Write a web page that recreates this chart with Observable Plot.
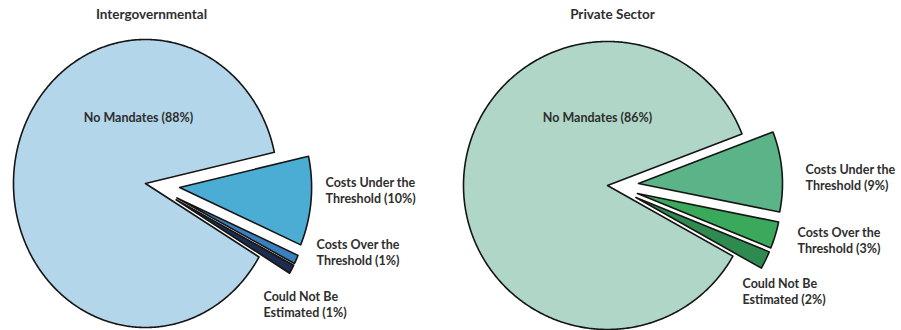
<!DOCTYPE html>
<html>
<head>
<meta charset="utf-8">
<script src="https://cdn.jsdelivr.net/npm/d3@7"></script>
<script src="https://cdn.jsdelivr.net/npm/@observablehq/plot@0.6"></script>
<style>
  html, body { margin: 0; padding: 0; background: #fff; }
  #chart { display: flex; width: 901px; height: 330px; overflow: hidden; }
</style>
</head>
<body>
<div id="chart"></div>
<script>
// ---- Data ----
const categories = ["Costs Under the Threshold", "Costs Over the Threshold", "Could Not Be Estimated", "No Mandates"];
const labelFirst = ["Costs Under the", "Costs Over the", "Could Not Be", "No Mandates"];
const labelSecond = ["Threshold", "Threshold", "Estimated", ""];
const intergovValues = [10, 1, 1, 88];
const privateValues = [9, 3, 2, 86];
const titles = ["Intergovernmental", "Private Sector"];

// ---- Style / layout ----
const panels = [
  {
    title: titles[0], values: intergovValues, width: 450,
    cx: 150.2, cy: 183.9, rx: 132, ry: 144,
    startDeg: 77.5, explode: [0.22, 0.22, 0.22, 0.04],
    colors: ["#4badd3", "#3a7fbe", "#1c2c4c", "#b4d6ea"],
    titlePos: [151, 14],
    labelPos: [[325, 189, "start"], [316, 251, "start"], [263, 303, "start"], [138, 117, "middle"]]
  },
  {
    title: titles[1], values: privateValues, width: 451,
    cx: 161.3, cy: 185.3, rx: 144, ry: 144,
    startDeg: 69, explode: [0.186, 0.186, 0.186, 0.03],
    colors: ["#5bb487", "#3aa95b", "#2f8a50", "#afd6c6"],
    titlePos: [162, 14],
    labelPos: [[355, 176.5, "start"], [347, 239, "start"], [292, 290.5, "start"], [147, 117, "middle"]]
  }
];
const H = 330;
const FONT = "Lato, 'Open Sans', sans-serif";

function slicePoints(values, startAngle, explode) {
  const arcs = d3.pie().sort(null).startAngle(startAngle).endAngle(startAngle + 2 * Math.PI)(values);
  const rows = [];
  arcs.forEach((a, i) => {
    const mid = (a.startAngle + a.endAngle) / 2;
    const ox = explode[i] * Math.sin(mid), oy = -explode[i] * Math.cos(mid);
    rows.push({slice: i, x: ox, y: oy});
    const n = Math.max(4, Math.ceil((a.endAngle - a.startAngle) / 0.01));
    for (let k = 0; k <= n; k++) {
      const t = a.startAngle + (a.endAngle - a.startAngle) * k / n;
      rows.push({slice: i, x: ox + Math.sin(t), y: oy - Math.cos(t)});
    }
  });
  return rows;
}

for (const p of panels) {
  const W = p.width;
  const pts = slicePoints(p.values, p.startDeg * Math.PI / 180, p.explode);
  const toX = px => (px - p.cx) / p.rx;
  const toY = py => (py - p.cy) / p.ry;
  const labels = categories.map((c, i) => ({
    x: toX(p.labelPos[i][0]), y: toY(p.labelPos[i][1]), anchor: p.labelPos[i][2],
    text: labelSecond[i] ? `${labelFirst[i]}\n${labelSecond[i]} (${p.values[i]}%)` : `${labelFirst[i]} (${p.values[i]}%)`
  }));
  const chart = Plot.plot({
    width: W, height: H,
    margin: 0,
    x: {domain: [toX(0), toX(W)], range: [0, W], axis: null},
    y: {domain: [toY(0), toY(H)], range: [0, H], axis: null},
    color: {type: "identity"},
    style: {fontFamily: FONT, background: "#fff"},
    marks: [
      Plot.line(pts, {x: "x", y: "y", z: "slice", fill: d => p.colors[d.slice], stroke: "#151515", strokeWidth: 1.6, strokeLinejoin: "round", curve: "linear-closed"}),
      Plot.text(labels.filter(d => d.anchor === "start"), {x: "x", y: "y", text: "text", textAnchor: "start", lineAnchor: "middle", lineHeight: 1.3, fontSize: 12.5, fontWeight: "bold", fill: "#2e2e2e"}),
      Plot.text(labels.filter(d => d.anchor === "middle"), {x: "x", y: "y", text: "text", textAnchor: "middle", lineAnchor: "middle", fontSize: 12.5, fontWeight: "bold", fill: "#2e2e2e"}),
      Plot.text([p.title], {x: toX(p.titlePos[0]), y: toY(p.titlePos[1]), text: d => d, textAnchor: "middle", lineAnchor: "middle", fontSize: 13.5, fontWeight: "bold", fill: "#2e2e2e"})
    ]
  });
  document.getElementById("chart").appendChild(chart);
}
</script>
</body>
</html>
